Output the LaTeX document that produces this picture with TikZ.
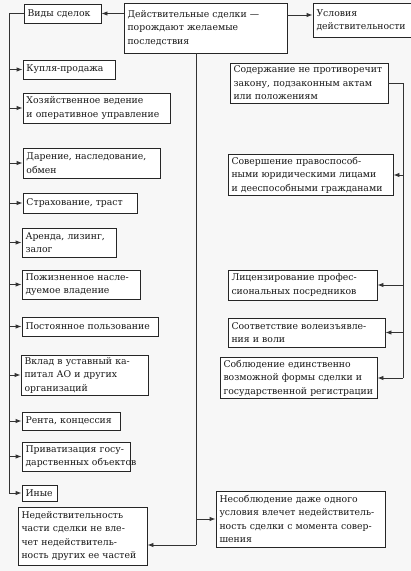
\documentclass[tikz,border=0pt]{standalone}
\usepackage{fontspec}
\setmainfont{DejaVu Serif}
\usetikzlibrary{arrows.meta}
\newcommand{\rw}[1]{\mbox{#1}}
\begin{document}
\begin{tikzpicture}[x=1pt,y=-1pt,
  box/.style={draw=black!85, line width=0.9pt, align=left, inner xsep=3.5pt, inner ysep=2pt,
    font=\fontsize{9.3}{13.5}\selectfont, text=black!90, fill=white},
  ln/.style={draw=black!80, line width=0.9pt},
  arr/.style={ln, -{Latex[length=6pt,width=4.5pt]}}]
\fill[gray!6] (0,0) rectangle (411,571);
\useasboundingbox (0,0) rectangle (411,571);
% top row
\node[box, text width=70pt, minimum height=19pt] (vidy) at (62.5,13.5) {\rw{Виды сделок}};
\node[box, text width=156pt, minimum height=50pt] (main) at (205.5,28) {\rw{Действительные сделки —}\\\rw{порождают желаемые}\\\rw{последствия}};
\node[box, text width=94pt, minimum height=34pt] (usl) at (363.5,20) {\rw{Условия}\\\rw{действительности}};
% left column
\node[box, text width=85pt, minimum height=19pt] (kupl) at (69,69.5) {\rw{Купля-продажа}};
\node[box, text width=140pt, minimum height=30pt] (hoz) at (96.5,108) {\rw{Хозяйственное ведение}\\\rw{и оперативное управление}};
\node[box, text width=130pt, minimum height=30pt] (dar) at (91.5,163) {\rw{Дарение, наследование,}\\\rw{обмен}};
\node[box, text width=107pt, minimum height=20pt] (strah) at (80,203) {\rw{Страхование, траст}};
\node[box, text width=87pt, minimum height=29pt] (arenda) at (69,242.5) {\rw{Аренда, лизинг,}\\\rw{залог}};
\node[box, text width=111pt, minimum height=29pt] (pozh) at (81,284.5) {\rw{Пожизненное насле-}\\\rw{дуемое владение}};
\node[box, text width=129pt, minimum height=19pt] (post) at (90,326.5) {\rw{Постоянное пользование}};
\node[box, text width=120pt, minimum height=40pt] (vklad) at (84.5,375) {\rw{Вклад в уставный ка-}\\\rw{питал АО и других}\\\rw{организаций}};
\node[box, text width=91pt, minimum height=18pt] (renta) at (71,421) {\rw{Рента, концессия}};
\node[box, text width=101pt, minimum height=29pt] (priv) at (76,456.5) {\rw{Приватизация госу-}\\\rw{дарственных объектов}};
\node[box, text width=28pt, minimum height=16pt] (inye) at (39.5,493) {\rw{Иные}};
\node[box, text width=122pt, minimum height=58pt] (nedeist) at (82.5,536) {\rw{Недействительность}\\\rw{части сделки не вле-}\\\rw{чет недействитель-}\\\rw{ность других ее частей}};
% right column
\node[box, text width=151pt, minimum height=40pt] (soder) at (309,83) {\rw{Содержание не противоречит}\\\rw{закону, подзаконным актам}\\\rw{или положениям}};
\node[box, text width=158pt, minimum height=36pt] (sover) at (310.5,175) {\rw{Совершение правоспособ-}\\\rw{ными юридическими лицами}\\\rw{и дееспособными гражданами}};
\node[box, text width=142pt, minimum height=30pt] (lic) at (302.5,285) {\rw{Лицензирование профес-}\\\rw{сиональных посредников}};
\node[box, text width=150pt, minimum height=29pt] (sootv) at (306.5,332.5) {\rw{Соответствие волеизъявле-}\\\rw{ния и воли}};
\node[box, text width=150pt, minimum height=40pt] (sobl) at (298.5,378) {\rw{Соблюдение единственно}\\\rw{возможной формы сделки и}\\\rw{государственной регистрации}};
\node[box, text width=162pt, minimum height=56pt] (nesobl) at (300.5,519) {\rw{Несоблюдение даже одного}\\\rw{условия влечет недействитель-}\\\rw{ность сделки с момента совер-}\\\rw{шения}};
% top connectors
\draw[arr] (main.west |- vidy.east) -- (vidy.east);
\coordinate (ua) at (0,15);
\draw[arr] (main.east |- ua) -- (usl.west |- ua);
% left trunk
\coordinate (lx) at (9,0);
\draw[ln] (vidy.west) -| (lx |- inye.west);
\foreach \n in {kupl,hoz,dar,strah,arenda,pozh,post,vklad,renta,priv,inye}
  \draw[arr] (lx |- \n.west) -- (\n.west);
% center trunk
\coordinate (cx) at (196,0);
\coordinate (cb) at (196,545);
\draw[ln] (cx |- main.south) -- (cb);
\draw[arr] (cb) -- (nedeist.east |- cb);
\draw[arr] (cx |- nesobl.west) -- (nesobl.west);
% right trunk
\coordinate (rx) at (403,0);
\draw[ln] (soder.east) -- (rx |- soder.east) -- (rx |- sobl.east);
\foreach \n in {sover,lic,sootv,sobl}
  \draw[arr] (rx |- \n.east) -- (\n.east);
\end{tikzpicture}
\end{document}
